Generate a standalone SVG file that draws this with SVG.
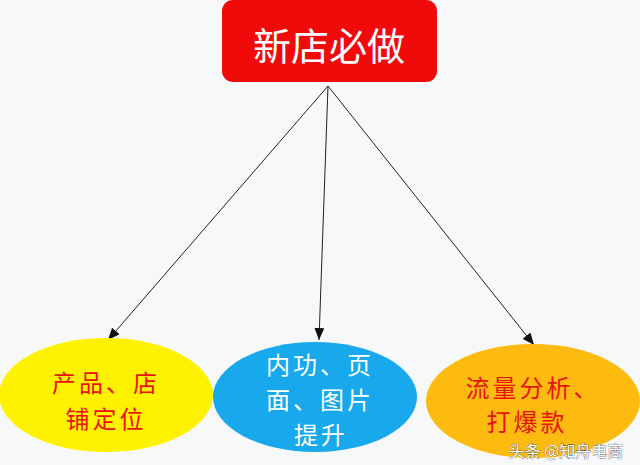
<svg xmlns="http://www.w3.org/2000/svg" width="640" height="465" viewBox="0 0 640 465">
<defs>
<style>
.t{font-family:"Noto Sans CJK SC","Noto Sans",sans-serif;text-anchor:middle;dominant-baseline:central}
.red{fill:#e8140c;font-size:24px;letter-spacing:3px}
.wh{fill:#ffffff;font-size:24px;letter-spacing:3px}
.ln{stroke:#222;stroke-width:1;fill:none;marker-end:url(#ah)}
</style>
<marker id="ah" viewBox="0 0 12 10" refX="12" refY="5" markerWidth="12" markerHeight="10" markerUnits="userSpaceOnUse" orient="auto">
<path d="M0,0 L12,5 L0,10 z" fill="#111"/>
</marker>
</defs>
<rect width="640" height="465" fill="#f7f8fa"/>
<g id="connectors">
<line class="ln" x1="328" y1="86" x2="108" y2="340"/>
<line class="ln" x1="328" y1="86" x2="319" y2="340"/>
<line class="ln" x1="328" y1="86" x2="534" y2="345"/>
</g>
<g id="root">
<rect x="222" y="0" width="215" height="82" rx="11" fill="#f00a0a"/>
<text class="t" x="329" y="43" fill="#fff" font-size="38">新店必做</text>
</g>
<g id="node1">
<ellipse cx="106" cy="395" rx="107" ry="57" fill="#fff200"/>
<text class="t red" x="106" y="381">产品、店</text>
<text class="t red" x="106" y="417">铺定位</text>
</g>
<g id="node2">
<ellipse cx="315" cy="397" rx="102" ry="55" fill="#18a8ec"/>
<text class="t wh" x="320" y="363">内功、页</text>
<text class="t wh" x="320" y="398">面、图片</text>
<text class="t wh" x="321" y="433">提升</text>
</g>
<g id="node3">
<ellipse cx="533" cy="401" rx="107" ry="57" fill="#fdbb10"/>
<text class="t red" x="533" y="386">流量分析、</text>
<text class="t red" x="527" y="420">打爆款</text>
</g>
<text class="t" x="566" y="450" font-size="16" fill="#fff" stroke="#333" stroke-width="0.6" paint-order="stroke">头条 @知舟电商</text>
</svg>
